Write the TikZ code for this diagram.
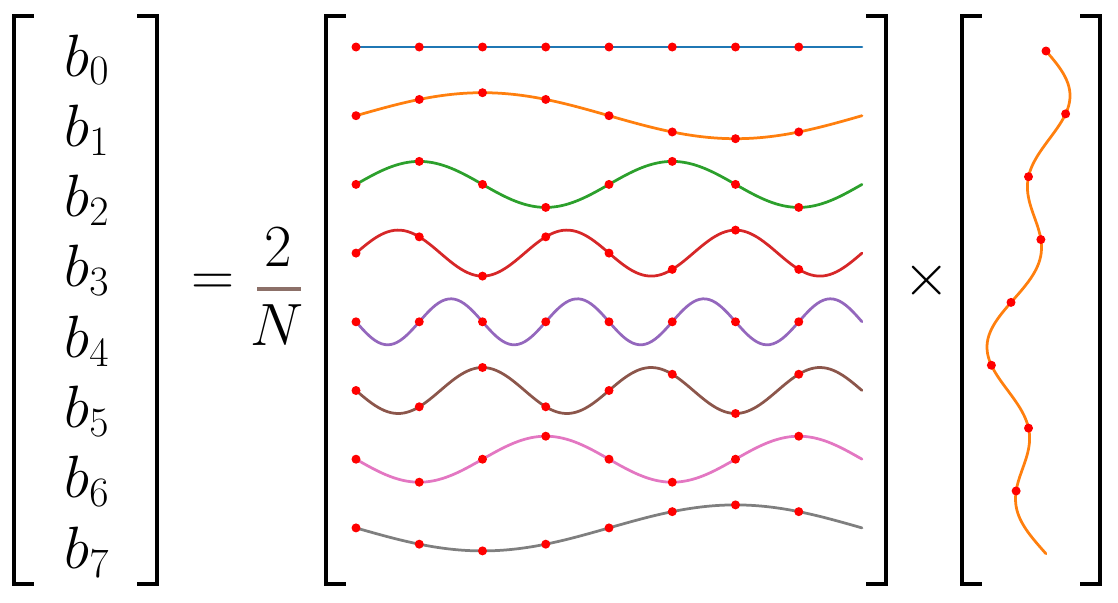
\documentclass[tikz,border=0pt]{standalone}
\usepackage{fix-cm}

\definecolor{tabblue}{HTML}{1F77B4}
\definecolor{taborange}{HTML}{FF7F0E}
\definecolor{tabgreen}{HTML}{2CA02C}
\definecolor{tabred}{HTML}{D62728}
\definecolor{tabpurple}{HTML}{9467BD}
\definecolor{tabbrown}{HTML}{8C564B}
\definecolor{tabpink}{HTML}{E377C2}
\definecolor{tabgray}{HTML}{7F7F7F}
\definecolor{barbrown}{RGB}{140,112,104}
\definecolor{dotred}{RGB}{255,0,0}

\tikzset{
  bracket/.style={line width=0.09cm, line join=miter, line cap=rect},
  wave/.style={line width=0.055cm, line cap=round},
  bigmath/.style={inner sep=0pt, font=\fontsize{34}{40}\selectfont},
}

\begin{document}
\begin{tikzpicture}[x=0.02cm, y=-0.02cm]

  \useasboundingbox (0,0) rectangle (1118,602);

  % left vector -- b_0 ... b_7
  \draw[bracket] (32,16) -- (14,16) -- (14,584) -- (32,584);
  \draw[bracket] (139,16) -- (157,16) -- (157,584) -- (139,584);
  \foreach \k in {0,...,7}
    \node[bigmath, anchor=base] (b\k) at (87, {76+70.3*\k}) {$b_{\k}$};

  % = 2/N
  \node[bigmath] (eq) at (213, 285) {$=$};
  \node[bigmath] (two) at (278, 247) {$2$};
  \node[bigmath] (N) at (277, 325) {$N$};
  \draw[barbrown, line width=0.08cm] (257,289) -- (301,289);

  % matrix of sampled sine rows
  \draw[bracket] (344,16) -- (326,16) -- (326,584) -- (344,584);
  \draw[bracket] (868,16) -- (886,16) -- (886,584) -- (868,584);
  \foreach \k/\col in {0/tabblue, 1/taborange, 2/tabgreen, 3/tabred,
                       4/tabpurple, 5/tabbrown, 6/tabpink, 7/tabgray} {
    \pgfmathsetmacro\rowy{47+68.7*\k}
    \pgfmathsetmacro\freq{\k<4 ? \k : 8-\k}
    \pgfmathsetmacro\sgn{\k<4 ? 1 : -1}
    \draw[wave, \col] plot[domain=0:8, samples=160]
      ({356+63.25*\x}, {\rowy-\sgn*23*sin(45*\freq*\x)});
    \foreach \n in {0,...,7}
      \fill[dotred] ({356+63.25*\n}, {\rowy-23*sin(45*\k*\n)}) circle (0.09cm);
  }

  % times
  \node[bigmath] (times) at (927, 281) {$\times$};

  % right vector -- the signal, drawn vertically
  \draw[bracket] (980,16) -- (962,16) -- (962,584) -- (980,584);
  \draw[bracket] (1082,16) -- (1100,16) -- (1100,584) -- (1082,584);
  \draw[wave, taborange] plot[domain=0:8, samples=160]
    ({1028.5+17.5*(cos(45*\x)+sin(45*\x)+sin(135*\x))}, {51+62.85*\x});
  \foreach \n in {0,...,7}
    \fill[dotred] ({1028.5+17.5*(cos(45*\n)+sin(45*\n)+sin(135*\n))}, {51+62.85*\n})
      circle (0.09cm);

\end{tikzpicture}
\end{document}
